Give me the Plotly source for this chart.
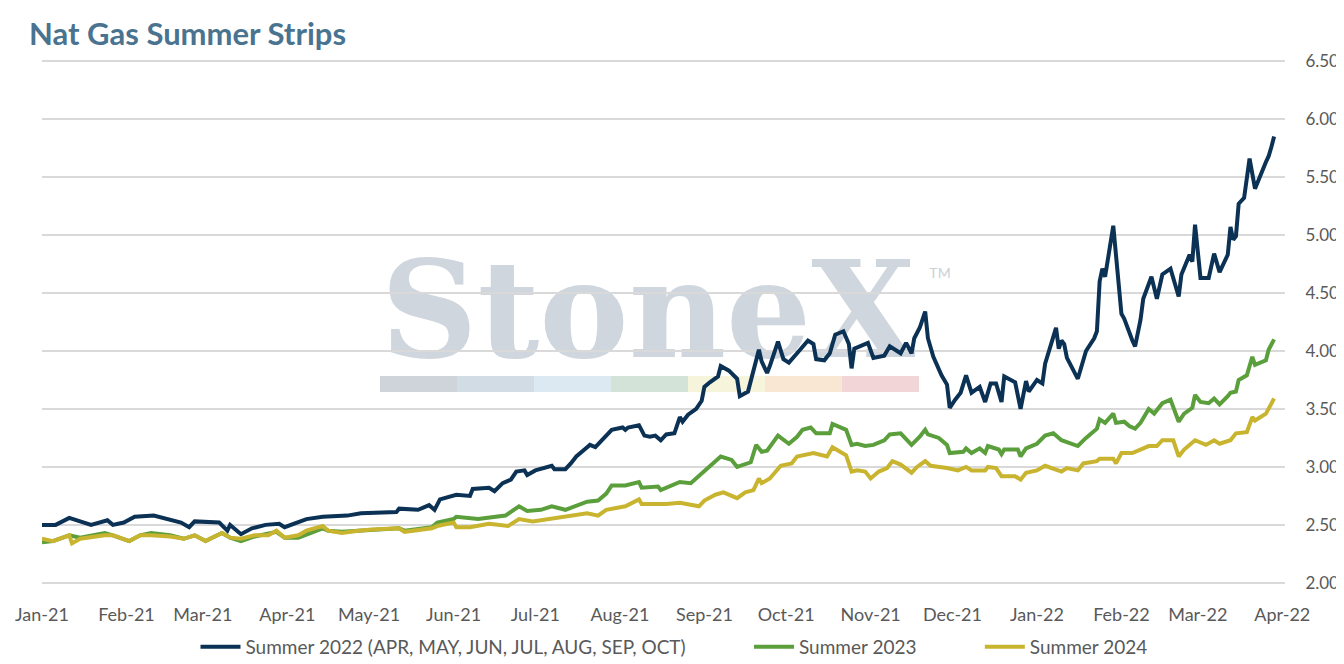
import plotly.graph_objects as go

# ---------------- data ----------------
s22_dates = ["2021-01-01","2021-01-06","2021-01-11","2021-01-19","2021-01-25","2021-01-27","2021-01-31",
 "2021-02-04","2021-02-11","2021-02-16","2021-02-21","2021-02-24","2021-02-26","2021-03-07","2021-03-10",
 "2021-03-11","2021-03-15","2021-03-19","2021-03-24","2021-03-29","2021-03-31","2021-04-08","2021-04-14",
 "2021-04-23","2021-04-28","2021-05-11","2021-05-12","2021-05-19","2021-05-23","2021-05-25","2021-05-27",
 "2021-06-02","2021-06-07","2021-06-08","2021-06-14","2021-06-16","2021-06-19","2021-06-22","2021-06-24",
 "2021-06-27","2021-06-28","2021-07-01","2021-07-07","2021-07-08","2021-07-12","2021-07-14","2021-07-16",
 "2021-07-20","2021-07-21","2021-07-23","2021-07-26","2021-07-29","2021-08-02","2021-08-03","2021-08-04",
 "2021-08-08","2021-08-10","2021-08-12","2021-08-14","2021-08-16","2021-08-18","2021-08-21","2021-08-23",
 "2021-08-24","2021-08-26","2021-08-29","2021-08-31","2021-09-01","2021-09-03","2021-09-06","2021-09-07",
 "2021-09-10","2021-09-13","2021-09-14","2021-09-17","2021-09-19","2021-09-21","2021-09-22","2021-09-24",
 "2021-09-25","2021-09-28","2021-09-30","2021-10-02","2021-10-05","2021-10-09","2021-10-11","2021-10-12",
 "2021-10-15","2021-10-17","2021-10-19","2021-10-22","2021-10-24","2021-10-25","2021-10-26","2021-10-31",
 "2021-11-02","2021-11-06","2021-11-08","2021-11-12","2021-11-14","2021-11-16","2021-11-17","2021-11-19",
 "2021-11-21","2021-11-22","2021-11-24","2021-11-27","2021-11-29","2021-11-30","2021-12-02","2021-12-04",
 "2021-12-06","2021-12-08","2021-12-11","2021-12-13","2021-12-15","2021-12-17","2021-12-19","2021-12-20",
 "2021-12-24","2021-12-26","2021-12-28","2021-12-29","2022-01-01","2022-01-03","2022-01-04","2022-01-08",
 "2022-01-09","2022-01-10","2022-01-11","2022-01-12","2022-01-16","2022-01-19","2022-01-22","2022-01-23",
 "2022-01-24","2022-01-25","2022-01-26","2022-01-29","2022-02-01","2022-02-02","2022-02-05","2022-02-06",
 "2022-02-08","2022-02-09","2022-02-12","2022-02-14","2022-02-16","2022-02-19","2022-02-21","2022-02-22",
 "2022-02-23","2022-02-26","2022-02-27","2022-02-28","2022-03-02","2022-03-05","2022-03-07","2022-03-09",
 "2022-03-12","2022-03-13","2022-03-14","2022-03-15","2022-03-16","2022-03-18","2022-03-20","2022-03-22",
 "2022-03-26","2022-03-27","2022-03-28","2022-03-29"]
s22_vals = [2.50,2.50,2.56,2.50,2.54,2.50,2.52,
 2.57,2.58,2.55,2.52,2.48,2.53,2.52,2.45,
 2.50,2.42,2.47,2.50,2.51,2.48,2.55,2.57,
 2.58,2.60,2.61,2.64,2.63,2.67,2.63,2.72,
 2.76,2.75,2.81,2.82,2.79,2.86,2.89,2.96,
 2.97,2.93,2.97,3.01,2.98,2.98,3.03,3.09,
 3.17,3.19,3.17,3.24,3.32,3.34,3.32,3.34,
 3.36,3.27,3.26,3.27,3.23,3.28,3.29,3.43,
 3.39,3.45,3.50,3.57,3.69,3.73,3.78,3.87,
 3.83,3.76,3.61,3.65,3.83,4.01,3.91,3.81,
 3.87,4.08,3.93,3.90,3.98,4.09,4.06,3.93,
 3.92,3.98,4.14,4.17,4.06,3.85,4.02,4.07,
 3.94,3.96,4.04,3.98,4.07,3.98,4.11,4.20,
 4.34,4.11,3.95,3.79,3.71,3.51,3.58,3.64,
 3.79,3.64,3.69,3.56,3.72,3.72,3.56,3.78,
 3.73,3.50,3.74,3.65,3.75,3.72,3.89,4.20,
 4.02,4.09,4.06,3.94,3.76,4.00,4.11,4.17,
 4.60,4.71,4.64,5.08,4.32,4.28,4.09,4.04,
 4.27,4.45,4.64,4.45,4.66,4.71,4.55,4.47,
 4.66,4.83,4.77,5.09,4.63,4.63,4.84,4.68,
 4.83,5.07,4.96,4.99,5.27,5.32,5.66,5.40,
 5.63,5.68,5.76,5.85]

s23_dates = ["2021-01-01","2021-01-05","2021-01-11","2021-01-15","2021-01-24","2021-01-27","2021-02-02",
 "2021-02-06","2021-02-10","2021-02-17","2021-02-22","2021-02-26","2021-03-02","2021-03-08","2021-03-11",
 "2021-03-15","2021-03-20","2021-03-28","2021-03-31","2021-04-05","2021-04-14","2021-04-16","2021-04-21",
 "2021-05-02","2021-05-12","2021-05-14","2021-05-24","2021-05-26","2021-06-01","2021-06-02","2021-06-10",
 "2021-06-20","2021-06-25","2021-06-28","2021-07-03","2021-07-07","2021-07-12","2021-07-20","2021-07-24",
 "2021-07-27","2021-07-29","2021-08-03","2021-08-08","2021-08-09","2021-08-15","2021-08-16","2021-08-23",
 "2021-08-27","2021-09-01","2021-09-07","2021-09-11","2021-09-13","2021-09-18","2021-09-20","2021-09-22",
 "2021-09-24","2021-09-28","2021-10-02","2021-10-05","2021-10-07","2021-10-10","2021-10-12","2021-10-17",
 "2021-10-18","2021-10-23","2021-10-25","2021-10-27","2021-10-30","2021-11-02","2021-11-06","2021-11-08",
 "2021-11-12","2021-11-16","2021-11-19","2021-11-21","2021-11-22","2021-11-26","2021-11-29","2021-11-30",
 "2021-12-05","2021-12-06","2021-12-08","2021-12-11","2021-12-13","2021-12-14","2021-12-18","2021-12-19",
 "2021-12-20","2021-12-25","2021-12-26","2021-12-28","2022-01-01","2022-01-04","2022-01-07","2022-01-10",
 "2022-01-16","2022-01-19","2022-01-23","2022-01-24","2022-01-26","2022-01-29","2022-01-30","2022-02-02",
 "2022-02-04","2022-02-06","2022-02-08","2022-02-11","2022-02-13","2022-02-16","2022-02-19","2022-02-22",
 "2022-02-24","2022-02-27","2022-02-28","2022-03-02","2022-03-05","2022-03-07","2022-03-09","2022-03-12",
 "2022-03-13","2022-03-15","2022-03-16","2022-03-19","2022-03-21","2022-03-22","2022-03-26","2022-03-27",
 "2022-03-29"]
s23_vals = [2.35,2.36,2.41,2.39,2.43,2.41,2.36,
 2.41,2.43,2.41,2.38,2.41,2.36,2.43,2.39,
 2.36,2.40,2.44,2.39,2.39,2.47,2.45,2.44,
 2.46,2.47,2.45,2.48,2.52,2.55,2.57,2.55,
 2.58,2.66,2.62,2.63,2.66,2.63,2.70,2.71,
 2.77,2.84,2.84,2.87,2.82,2.83,2.80,2.87,
 2.86,2.96,3.09,3.06,3.00,3.04,3.19,3.13,
 3.14,3.27,3.20,3.26,3.32,3.34,3.29,3.29,
 3.37,3.32,3.19,3.20,3.18,3.19,3.23,3.28,
 3.29,3.19,3.26,3.32,3.28,3.25,3.19,3.12,
 3.13,3.16,3.12,3.16,3.12,3.18,3.15,3.11,
 3.15,3.15,3.09,3.16,3.20,3.27,3.29,3.23,
 3.18,3.25,3.33,3.41,3.38,3.46,3.38,3.39,
 3.35,3.33,3.38,3.50,3.46,3.55,3.58,3.39,
 3.46,3.51,3.62,3.56,3.55,3.59,3.54,3.61,
 3.64,3.65,3.75,3.79,3.95,3.88,3.92,4.01,
 4.10]

s24_dates = ["2021-01-01","2021-01-05","2021-01-11","2021-01-12","2021-01-15","2021-01-24","2021-01-27",
 "2021-02-02","2021-02-06","2021-02-10","2021-02-17","2021-02-22","2021-02-26","2021-03-02","2021-03-08",
 "2021-03-11","2021-03-15","2021-03-20","2021-03-25","2021-03-28","2021-03-31","2021-04-05","2021-04-08",
 "2021-04-14","2021-04-16","2021-04-21","2021-04-27","2021-05-02","2021-05-12","2021-05-14","2021-05-24",
 "2021-05-26","2021-06-01","2021-06-02","2021-06-07","2021-06-14","2021-06-21","2021-06-25","2021-06-30",
 "2021-07-06","2021-07-12","2021-07-20","2021-07-24","2021-07-27","2021-08-03","2021-08-08","2021-08-09",
 "2021-08-18","2021-08-23","2021-08-30","2021-09-01","2021-09-05","2021-09-08","2021-09-13","2021-09-16",
 "2021-09-19","2021-09-21","2021-09-22","2021-09-25","2021-09-29","2021-10-03","2021-10-05","2021-10-11",
 "2021-10-16","2021-10-18","2021-10-23","2021-10-25","2021-10-27","2021-10-30","2021-11-01","2021-11-04",
 "2021-11-07","2021-11-09","2021-11-12","2021-11-16","2021-11-18","2021-11-21","2021-11-23","2021-11-29",
 "2021-12-03","2021-12-06","2021-12-08","2021-12-13","2021-12-14","2021-12-17","2021-12-19","2021-12-24",
 "2021-12-26","2021-12-28","2022-01-01","2022-01-04","2022-01-10","2022-01-12","2022-01-16","2022-01-18",
 "2022-01-23","2022-01-24","2022-01-29","2022-01-30","2022-02-01","2022-02-05","2022-02-08","2022-02-11",
 "2022-02-14","2022-02-16","2022-02-20","2022-02-22","2022-02-24","2022-02-28","2022-03-04","2022-03-07",
 "2022-03-09","2022-03-13","2022-03-15","2022-03-19","2022-03-21","2022-03-22","2022-03-26","2022-03-29"]
s24_vals = [2.38,2.36,2.41,2.34,2.38,2.41,2.41,
 2.36,2.41,2.41,2.40,2.38,2.41,2.36,2.43,
 2.39,2.38,2.41,2.41,2.45,2.39,2.41,2.45,
 2.49,2.45,2.43,2.45,2.46,2.47,2.44,2.47,
 2.49,2.52,2.48,2.48,2.51,2.49,2.55,2.53,
 2.55,2.57,2.60,2.58,2.63,2.66,2.72,2.68,
 2.68,2.69,2.66,2.71,2.76,2.78,2.73,2.78,
 2.80,2.90,2.86,2.90,3.01,3.03,3.09,3.12,
 3.09,3.17,3.10,2.96,2.97,2.96,2.90,2.96,
 2.99,3.05,3.02,2.95,3.00,3.05,3.01,2.99,
 2.97,3.00,2.97,2.97,3.00,2.99,2.92,2.92,
 2.89,2.95,2.97,3.01,2.96,2.99,2.97,3.03,
 3.05,3.07,3.07,3.03,3.12,3.12,3.15,3.18,
 3.18,3.23,3.23,3.09,3.15,3.23,3.19,3.23,
 3.20,3.23,3.29,3.30,3.43,3.40,3.46,3.59]

series_names = ["Summer 2022 (APR, MAY, JUN, JUL, AUG, SEP, OCT)", "Summer 2023", "Summer 2024"]
series_colors = ["#0b3154", "#5b9f3c", "#c8b42f"]
y_ticks = [2.0, 2.5, 3.0, 3.5, 4.0, 4.5, 5.0, 5.5, 6.0, 6.5]
y_range = [1.99, 6.51]

# ---------------- figure ----------------
# the page body adds an 8px margin, so the figure is 8px smaller and all
# screen positions below are given in screen pixels and shifted by OFF
OFF = 8
SW, SH = 1344, 664
W, H = SW - OFF, SH - OFF
plot_left, plot_right, plot_top, plot_bottom = 42, 1285, 60, 584
L = plot_left - OFF
R = SW - plot_right
T = plot_top - OFF
B = SH - plot_bottom
pw, ph = W - L - R, H - T - B

def px(x):
    return (x - plot_left) / pw

def py(y):
    return (plot_bottom - y) / ph

fig = go.Figure()
gap = "\u00a0" * 12
for i, (d, v, n, c) in enumerate(zip([s22_dates, s23_dates, s24_dates], [s22_vals, s23_vals, s24_vals],
                      series_names, series_colors)):
    fig.add_trace(go.Scatter(x=d, y=v, name=n + (gap if i < 2 else ""), mode="lines",
                             line=dict(color=c, width=4)))

shapes = []
# StoneX watermark colour bar
bar_cols = ["#cfd4da", "#d2dce5", "#dde9f2", "#d4e3d8", "#f7f4dc", "#f9e7d3", "#f2d5d6"]
x0 = 380
seg = 77
for i, col in enumerate(bar_cols):
    shapes.append(dict(type="rect", xref="paper", yref="paper",
                       x0=px(x0 + i * seg), x1=px(x0 + (i + 1) * seg),
                       y0=py(392), y1=py(376), fillcolor=col, line=dict(width=0),
                       layer="below"))
# watermark text
shapes.append(dict(type="rect", xref="paper", yref="paper",
                   x0=px(383), x1=px(913), y0=py(350), y1=py(254),
                   line=dict(width=0), fillcolor="rgba(0,0,0,0)", layer="below",
                   label=dict(text="<b>StoneX</b>", textposition="middle center",
                              font=dict(family="DejaVu Serif", size=134, color="#d0d6de"))))
shapes.append(dict(type="rect", xref="paper", yref="paper",
                   x0=px(927), x1=px(953), y0=py(280), y1=py(264),
                   line=dict(width=0), fillcolor="rgba(0,0,0,0)", layer="below",
                   label=dict(text="TM", textposition="middle center",
                              font=dict(family="Lato", size=14, color="#c9d0d8"))))

fig.update_layout(
    width=W, height=H,
    margin=dict(l=L, r=R, t=T, b=B, autoexpand=False),
    paper_bgcolor="white", plot_bgcolor="white",
    font=dict(family="Lato", size=18, color="#595959"),
    title=dict(text="<b>Nat Gas Summer Strips</b>", x=(29 - OFF) / W, xanchor="left",
               xref="container", y=1 - (34 - OFF) / H, yref="container", yanchor="middle",
               pad=dict(l=0, r=0, t=0, b=0),
               font=dict(family="Lato", size=31, color="#4a7390")),
    showlegend=True,
    legend=dict(orientation="h", xref="container", yref="container",
                x=(674 - OFF) / W, xanchor="center", y=1 - (647 - OFF) / H, yanchor="middle",
                font=dict(family="Lato", size=19, color="#595959"),
                itemwidth=40, tracegroupgap=0),
    shapes=shapes,
    xaxis=dict(type="date", range=["2021-01-01", "2022-04-02"], dtick="M1",
               tick0="2021-01-01", tickformat="%b-%y", showgrid=False,
               showline=False, zeroline=False, ticks="outside", ticklen=14,
               tickcolor="rgba(0,0,0,0)", tickfont=dict(size=18)),
    yaxis=dict(range=y_range, tickvals=y_ticks, tickformat=".2f", side="right",
               showgrid=True, gridcolor="#d9d9d9", gridwidth=1.6, zeroline=False,
               showline=False, ticks="outside", ticklen=16, automargin=False,
               tickcolor="rgba(0,0,0,0)", tickfont=dict(size=17)),
)

fig.write_html("out.html")
